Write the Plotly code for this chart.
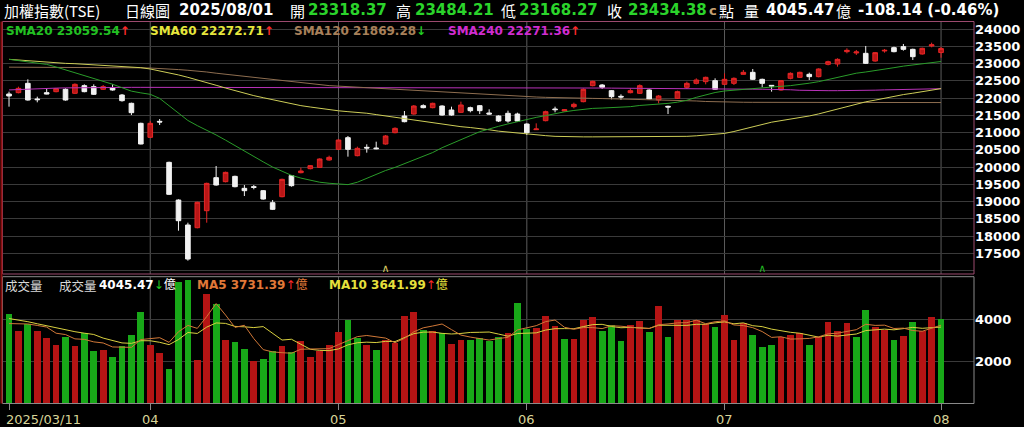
import plotly.graph_objects as go

# ------------------------------------------------------------------ data
title_name = "加權指數(TSE)"
chart_kind = "日線圖"
date_last = "2025/08/01"
tick_idx = [0, 15, 35, 55, 76, 99]
tick_labels = ["2025/03/11", "04", "05", "06", "07", "08"]

open_ = [22117, 22156, 22426, 21972, 22156, 22185, 22253, 22137, 22359, 22330,
         22253, 22301, 22088, 21847, 21267, 20861, 21325, 20136, 19044, 18320,
         18242, 18735, 19692, 19576, 19730, 19383, 19431, 19315, 18967, 19141,
         19750, 19837, 19953, 19991, 20204, 20513, 20851, 20330, 20571, 20552,
         20668, 20996, 21479, 21537, 21779, 21721, 21769, 21653, 21586, 21721,
         21779, 21566, 21479, 21557, 21537, 21247, 21083, 21344, 21682, 21624,
         21750, 21895, 22359, 22378, 22214, 22050, 22156, 22137, 22233, 21943,
         21760, 21992, 22310, 22426, 22475, 22504, 22397, 22426, 22687, 22745,
         22542, 22368, 22233, 22571, 22600, 22687, 22620, 22977, 22987, 23344,
         23306, 23296, 23074, 23364, 23460, 23489, 23412, 23277, 23509, 23318.37]
high = [22185, 22330, 22542, 22040, 22281, 22291, 22281, 22426, 22397, 22397,
        22378, 22397, 22117, 21866, 21286, 21334, 21392, 20156, 19064, 18387,
        18996, 19547, 20030, 19866, 19750, 19479, 19479, 19334, 19044, 19663,
        19769, 19982, 20059, 20252, 20330, 20803, 20900, 20591, 20658, 20735,
        20929, 21151, 21624, 21798, 21818, 21866, 21789, 21750, 21895, 21750,
        21798, 21673, 21499, 21634, 21576, 21267, 21267, 21634, 21750, 21682,
        21866, 22281, 22504, 22407, 22233, 22108, 22281, 22397, 22253, 22088,
        21779, 22214, 22475, 22571, 22620, 22571, 22716, 22600, 22813, 22842,
        22562, 22378, 22523, 22745, 22765, 22736, 22861, 23083, 23151, 23441,
        23393, 23509, 23335, 23422, 23489, 23567, 23431, 23460, 23605, 23484.21]
low = [21750, 22136, 21924, 21876, 22108, 22166, 21924, 22117, 22166, 22088,
       22233, 22214, 21895, 21508, 20658, 20851, 21218, 19189, 18155, 17286,
       18223, 18387, 19460, 19556, 19412, 19160, 19354, 19054, 18754, 19122,
       19431, 19817, 19933, 19972, 20185, 20494, 20301, 20310, 20417, 20513,
       20648, 20977, 21296, 21518, 21702, 21702, 21489, 21489, 21566, 21586,
       21537, 21518, 21305, 21286, 21315, 20929, 21074, 21325, 21586, 21615,
       21702, 21876, 22339, 22262, 21963, 21943, 22136, 22117, 21953, 21847,
       21537, 21972, 22262, 22397, 22397, 22233, 22378, 22378, 22678, 22523,
       22310, 22185, 22214, 22542, 22581, 22523, 22600, 22948, 22910, 23296,
       23248, 22987, 23054, 23315, 23325, 23373, 23103, 23257, 23470, 23168.27]
close = [22059, 22281, 21943, 21953, 22117, 22272, 21943, 22397, 22185, 22108,
         22330, 22233, 21924, 21576, 20668, 21267, 21305, 19209, 18445, 17334,
         18977, 19527, 19479, 19846, 19431, 19315, 19412, 19073, 18774, 19643,
         19460, 19885, 20040, 20233, 20281, 20784, 20513, 20542, 20552, 20532,
         20900, 21122, 21315, 21769, 21721, 21847, 21508, 21508, 21798, 21634,
         21634, 21537, 21334, 21334, 21334, 20996, 21103, 21605, 21663, 21663,
         21818, 22253, 22484, 22310, 22040, 22030, 22214, 22359, 21972, 22059,
         21740, 22185, 22426, 22523, 22600, 22253, 22542, 22571, 22745, 22542,
         22426, 22349, 22504, 22716, 22745, 22620, 22842, 23054, 23122, 23383,
         23335, 23006, 23315, 23383, 23344, 23412, 23199, 23441, 23542.52, 23434.38]

volume = [4288, 3488, 3808, 3488, 3136, 2816, 3168, 2768, 3376, 2528,
          2560, 2208, 2768, 3280, 4400, 2800, 2416, 1648, 5820, 5920,
          2096, 5248, 4768, 3056, 2960, 2608, 2048, 2128, 2512, 2768,
          2480, 3008, 2208, 2528, 2816, 3440, 4000, 3136, 2800, 2576,
          3056, 2896, 4176, 4368, 3536, 3488, 3376, 2832, 3056, 3056,
          3136, 3008, 3200, 3360, 4816, 3568, 3600, 4176, 3728, 3088,
          3088, 4016, 4160, 3488, 3776, 2976, 3760, 3968, 3408, 4656,
          3168, 4016, 4016, 4000, 3808, 3648, 4224, 3040, 3856, 3296,
          2720, 2816, 3200, 3296, 3360, 2816, 3200, 3920, 3456, 3840,
          3168, 4496, 3648, 3520, 3040, 3248, 3920, 3488, 4160, 4045.47]
# 'U' = index closed higher than the day before, 'D' = lower (as coloured in the picture)
vol_dir = list("DUDUUUDUDD" "UDDDDUUDDD" "UUDUDDUDDU" "DUUUUUDDUD"
               "UUUUDUDUUD" "DDDUDDUUUD" "UUUDDDUUDU" "DUUUUDUUUD"
               "DDUUUDUUUU" "DDUUDUDUUD")

sma20 = [23122, 23090, 23060, 23020, 22975, 22900, 22820, 22740, 22660, 22570,
         22490, 22400, 22300, 22200, 22150, 22108, 21990, 21780, 21560, 21350,
         21200, 21070, 20930, 20780, 20620, 20450, 20300, 20150, 20000, 19870,
         19760, 19680, 19610, 19560, 19530, 19500, 19490, 19560, 19680, 19800,
         19900, 19990, 20100, 20210, 20330, 20420, 20560, 20670, 20790, 20910,
         21025, 21110, 21180, 21250, 21320, 21380, 21440, 21490, 21550, 21600,
         21640, 21680, 21700, 21710, 21720, 21735, 21750, 21785, 21800, 21825,
         21845, 21880, 21935, 22020, 22100, 22160, 22205, 22230, 22253, 22285,
         22305, 22325, 22340, 22360, 22390, 22430, 22475, 22540, 22610, 22670,
         22720, 22755, 22790, 22840, 22880, 22925, 22960, 22985, 23020, 23059.54]
sma60 = [23122, 23100, 23075, 23050, 23030, 23015, 23005, 22995, 22980, 22965,
         22950, 22940, 22925, 22910, 22880, 22842, 22790, 22740, 22670, 22600,
         22530, 22450, 22370, 22290, 22210, 22140, 22070, 22010, 21950, 21890,
         21830, 21780, 21740, 21700, 21670, 21630, 21605, 21590, 21560, 21520,
         21480, 21445, 21405, 21365, 21320, 21280, 21245, 21205, 21170, 21145,
         21120, 21080, 21040, 21010, 20980, 20955, 20930, 20910, 20890, 20880,
         20875, 20875, 20875, 20875, 20880, 20880, 20880, 20880, 20880, 20880,
         20880, 20885, 20890, 20905, 20925, 20950, 20975, 21030, 21095, 21170,
         21240, 21300, 21345, 21385, 21430, 21480, 21540, 21610, 21690, 21770,
         21840, 21890, 21940, 22000, 22050, 22100, 22140, 22180, 22220, 22272.71]
sma120 = [22895, 22895, 22894, 22894, 22893, 22893, 22892, 22892, 22891, 22891,
          22890, 22890, 22890, 22885, 22875, 22870, 22860, 22845, 22825, 22805,
          22785, 22755, 22720, 22690, 22660, 22630, 22595, 22560, 22530, 22505,
          22475, 22445, 22420, 22390, 22360, 22345, 22330, 22310, 22290, 22270,
          22250, 22235, 22220, 22205, 22190, 22175, 22160, 22150, 22135, 22120,
          22105, 22090, 22075, 22065, 22050, 22040, 22030, 22020, 22010, 22005,
          22000, 21995, 21990, 21985, 21980, 21975, 21970, 21965, 21955, 21945,
          21940, 21935, 21925, 21915, 21900, 21890, 21885, 21880, 21878, 21876,
          21875, 21873, 21872, 21870, 21869, 21868, 21867, 21867, 21867, 21867,
          21868, 21868, 21869, 21869, 21870, 21870, 21870, 21871, 21871, 21869.28]
sma240 = [22235, 22250, 22262, 22272, 22280, 22288, 22295, 22300, 22303, 22305,
          22307, 22308, 22309, 22310, 22310, 22310, 22310, 22310, 22310, 22310,
          22310, 22310, 22310, 22310, 22310, 22310, 22310, 22310, 22310, 22310,
          22310, 22310, 22310, 22310, 22310, 22310, 22310, 22310, 22310, 22310,
          22309, 22309, 22308, 22308, 22307, 22307, 22306, 22306, 22305, 22305,
          22304, 22304, 22303, 22303, 22302, 22301, 22300, 22299, 22298, 22297,
          22296, 22294, 22292, 22290, 22287, 22284, 22280, 22275, 22270, 22265,
          22262, 22262, 22261, 22261, 22260, 22260, 22259, 22258, 22257, 22256,
          22255, 22253, 22250, 22240, 22225, 22215, 22214, 22214, 22214, 22214,
          22215, 22220, 22228, 22236, 22243, 22250, 22256, 22262, 22267, 22271.36]
vol_ma5 = [3810, 3800, 3790, 3720, 3642, 3347, 3283, 3075, 3053, 2931,
           2880, 2688, 2688, 2669, 3043, 3091, 3133, 2909, 3417, 3721,
           3580, 4146, 4770, 4218, 3626, 3728, 3088, 2560, 2451, 2413,
           2387, 2579, 2595, 2598, 2608, 2800, 2998, 3184, 3238, 3190,
           3114, 2893, 3101, 3414, 3606, 3693, 3789, 3520, 3258, 3162,
           3091, 3018, 3091, 3152, 3504, 3590, 3709, 3904, 3978, 3632,
           3536, 3619, 3616, 3568, 3706, 3683, 3632, 3594, 3578, 3754,
           3792, 3843, 3853, 3971, 3802, 3898, 3939, 3744, 3715, 3613,
           3427, 3146, 3178, 3066, 3078, 3098, 3174, 3318, 3350, 3446,
           3517, 3776, 3722, 3734, 3574, 3590, 3475, 3443, 3571, 3731.39]
vol_ma10 = [4050, 3980, 3900, 3800, 3700, 3600, 3500, 3420, 3350, 3287,
            3114, 2986, 2882, 2861, 2987, 2986, 2911, 2799, 3043, 3382,
            3336, 3640, 3840, 3818, 3674, 3654, 3617, 3665, 3335, 3020,
            3058, 2834, 2578, 2525, 2511, 2594, 2789, 2890, 2918, 2899,
            2957, 2946, 3143, 3326, 3398, 3404, 3341, 3311, 3336, 3384,
            3392, 3404, 3306, 3205, 3333, 3341, 3364, 3498, 3565, 3568,
            3563, 3664, 3760, 3773, 3669, 3610, 3626, 3605, 3573, 3730,
            3738, 3738, 3724, 3775, 3778, 3845, 3891, 3799, 3843, 3708,
            3663, 3543, 3461, 3391, 3346, 3263, 3160, 3248, 3208, 3262,
            3308, 3475, 3520, 3542, 3510, 3554, 3626, 3583, 3610, 3641.99]

signal_idx = [40, 80]
signal_kind = ["a", "b"]
price_ticks = [17000, 17500, 18000, 18500, 19000, 19500, 20000, 20500,
               21000, 21500, 22000, 22500, 23000, 23500, 24000]
price_tick_text = ["", "17500", "18000", "18500", "19000", "19500", "20000", "20500",
                   "21000", "21500", "22000", "22500", "23000", "23500", "24000"]
vol_ticks = [2000, 4000]

# ------------------------------------------------------------------ style / geometry
W, H = 1024, 427
ML, MR, MT, MB = 3, 50, 22, 24
PW, PH = W - ML - MR, H - MT - MB


def px(x):
    return (x - ML) / PW


def py(y):
    return (H - MB - y) / PH


NUM = "DejaVu Sans, Noto Sans CJK TC"
CJK = "Noto Sans CJK TC, DejaVu Sans"
GREEN_TXT = "#2bd42b"
RED_ARR = "#ff2a2a"
GREEN_ARR = "#22cc22"
UP_BAR, DN_BAR = "#b51414", "#18a818"
SIG_COL = {"a": "#d8c860", "b": "#22b822"}

xs = list(range(len(close)))

fig = go.Figure()

fig.add_trace(go.Candlestick(
    x=xs, open=open_, high=high, low=low, close=close,
    increasing=dict(line=dict(color="#e62626", width=1), fillcolor="#b81616"),
    decreasing=dict(line=dict(color="#f2f2f2", width=1), fillcolor="#f2f2f2"),
    whiskerwidth=0, showlegend=False, hoverinfo="skip", xaxis="x", yaxis="y"))

for vals, col in [(sma240, "#b832b8"), (sma120, "#8e6e50"),
                  (sma60, "#cdcd58"), (sma20, "#2a9c2a")]:
    fig.add_trace(go.Scatter(x=xs, y=vals, mode="lines", line=dict(color=col, width=1),
                             hoverinfo="skip", showlegend=False, xaxis="x", yaxis="y"))

fig.add_trace(go.Scatter(
    x=signal_idx, y=[17040] * len(signal_idx), mode="text", text=["∧"] * len(signal_idx),
    textfont=dict(family="DejaVu Sans", size=11, color=[SIG_COL[k] for k in signal_kind]),
    hoverinfo="skip", showlegend=False, xaxis="x", yaxis="y"))

fig.add_trace(go.Bar(
    x=xs, y=volume, width=0.72,
    marker=dict(color=[UP_BAR if d == "U" else DN_BAR for d in vol_dir], line=dict(width=0)),
    hoverinfo="skip", showlegend=False, xaxis="x", yaxis="y2"))
fig.add_trace(go.Scatter(x=xs, y=vol_ma10, mode="lines", line=dict(color="#d8d040", width=1),
                         hoverinfo="skip", showlegend=False, xaxis="x", yaxis="y2"))
fig.add_trace(go.Scatter(x=xs, y=vol_ma5, mode="lines", line=dict(color="#d07838", width=1),
                         hoverinfo="skip", showlegend=False, xaxis="x", yaxis="y2"))

# ------------------------------------------------------------------ shapes
shapes = []
for t in tick_idx[1:]:
    shapes.append(dict(type="line", xref="x", yref="paper", x0=t, x1=t,
                       y0=py(274), y1=py(22), line=dict(color="#5c5c5c", width=1), layer="below"))
    shapes.append(dict(type="line", xref="x", yref="paper", x0=t, x1=t,
                       y0=py(403), y1=py(277), line=dict(color="#5c5c5c", width=1), layer="below"))
shapes.append(dict(type="rect", xref="paper", yref="paper", x0=px(2.5), x1=px(974),
                   y0=py(274), y1=py(21.5), line=dict(color="#9c4a6e", width=1)))
shapes.append(dict(type="rect", xref="paper", yref="paper", x0=px(2.5), x1=px(974),
                   y0=py(403.5), y1=py(276.7), line=dict(color="#8a8a8a", width=1)))
shapes.append(dict(type="line", xref="paper", yref="paper", x0=px(1.5), x1=px(1.5),
                   y0=py(403.5), y1=py(21.5), line=dict(color="#8c1010", width=2)))

# ------------------------------------------------------------------ texts
ann = []


def label(x, y, text, color, size, family=NUM, bold=False, anchor="left"):
    ann.append(dict(xref="paper", yref="paper", x=px(x), y=py(y), text=text,
                    showarrow=False, xanchor=anchor, yanchor="middle",
                    font=dict(family=family, size=size, color=color,
                              weight="bold" if bold else "normal")))


def arrow(cur, prev):
    if cur >= prev:
        return f"<span style='color:{RED_ARR}'>↑</span>"
    return f"<span style='color:{GREEN_ARR}'>↓</span>"


chg = close[-1] - close[-2]
pct = chg / close[-2] * 100
HY = 10
label(2, HY, title_name, "white", 15, CJK)
label(123, HY, chart_kind, "white", 15, CJK)
label(177, HY, date_last, "white", 15, NUM, True)
label(288, HY, "開", "white", 15, CJK)
label(306, HY, f"{open_[-1]:.2f}", GREEN_TXT, 15, NUM, True)
label(394, HY, "高", "white", 15, CJK)
label(413, HY, f"{high[-1]:.2f}", GREEN_TXT, 15, NUM, True)
label(499, HY, "低", "white", 15, CJK)
label(517, HY, f"{low[-1]:.2f}", GREEN_TXT, 15, NUM, True)
label(605, HY, "收", "white", 15, CJK)
label(626, HY, f"{close[-1]:.2f}", GREEN_TXT, 15, NUM, True)
label(707, HY, "c", "#c8a070", 13, NUM, True)
label(717, HY, "點", "white", 15, CJK)
label(742, HY, "量", "white", 15, CJK)
label(764, HY, f"{volume[-1]:.2f}", "white", 15, NUM, True)
label(834, HY, "億", "white", 15, CJK)
label(856, HY, f"{chg:.2f} ({pct:.2f}%)", "white", 15, NUM, True)

SY = 31
label(4, SY, f"SMA20 {sma20[-1]:.2f}" + arrow(sma20[-1], sma20[-2]), "#22c022", 12, NUM, True)
label(148, SY, f"SMA60 {sma60[-1]:.2f}" + arrow(sma60[-1], sma60[-2]), "#e6e63c", 12, NUM, True)
label(292, SY, f"SMA120 {sma120[-1]:.2f}" + arrow(sma120[-1], sma120[-2]), "#a8805a", 12, NUM, True)
label(446, SY, f"SMA240 {sma240[-1]:.2f}" + arrow(sma240[-1], sma240[-2]), "#d02cd0", 12, NUM, True)

VY = 285
label(3, VY, "成交量", "#d8d8d8", 12.5, CJK)
label(57, VY, "成交量", "#d8d8d8", 12.5, CJK)
label(97, VY, f"<b>{volume[-1]:.2f}</b>" + arrow(volume[-1], volume[-2]) + "億", "white", 12, NUM)
label(195, VY, f"<b>MA5 {vol_ma5[-1]:.2f}</b>" + arrow(vol_ma5[-1], vol_ma5[-2]) + "億", "#e07838", 12, NUM)
label(327, VY, f"<b>MA10 {vol_ma10[-1]:.2f}</b>" + arrow(vol_ma10[-1], vol_ma10[-2]) + "億", "#e6e03c", 12, NUM)

# x-axis labels
for t, s in zip(tick_idx, tick_labels):
    if t == tick_idx[0]:
        label(4, 419, s, "#d8d498", 13, NUM)
    else:
        ann.append(dict(xref="x", yref="paper", x=t, y=py(419), text=s, showarrow=False,
                        xanchor="center", yanchor="middle",
                        font=dict(family=NUM, size=13, color="#d8d498")))

fig.update_layout(
    width=W, height=H, margin=dict(l=ML, r=MR, t=MT, b=MB, pad=0),
    paper_bgcolor="black", plot_bgcolor="black", showlegend=False,
    hovermode=False, bargap=0,
    xaxis=dict(domain=[0, 1], range=[-0.64, 102.5], anchor="y2",
               tickvals=tick_idx, ticks="outside", ticklen=6, tickcolor="#8a8a8a",
               showticklabels=False, showgrid=False, zeroline=False, showline=False,
               rangeslider=dict(visible=False), fixedrange=True),
    yaxis=dict(domain=[py(274), 1], range=[16900, 24204], side="right", anchor="x",
               tickvals=price_ticks, ticktext=price_tick_text, ticks="",
               gridcolor="#3a3a3a", gridwidth=1, zeroline=False, showline=False,
               tickfont=dict(family="DejaVu Sans", size=13, color="white", weight="bold"),
               fixedrange=True),
    yaxis2=dict(domain=[0, py(276.7)], range=[0, 6058], side="right", anchor="x",
                tickvals=vol_ticks, ticks="", gridcolor="#3a3a3a", gridwidth=1,
                zeroline=False, showline=False,
                tickfont=dict(family="DejaVu Sans", size=13, color="white", weight="bold"),
                fixedrange=True),
    shapes=shapes, annotations=ann,
)

fig.write_html(
    "out.html",
    config={"displayModeBar": False},
    post_script="document.body.style.margin='0px';document.body.style.overflow='hidden';",
)
